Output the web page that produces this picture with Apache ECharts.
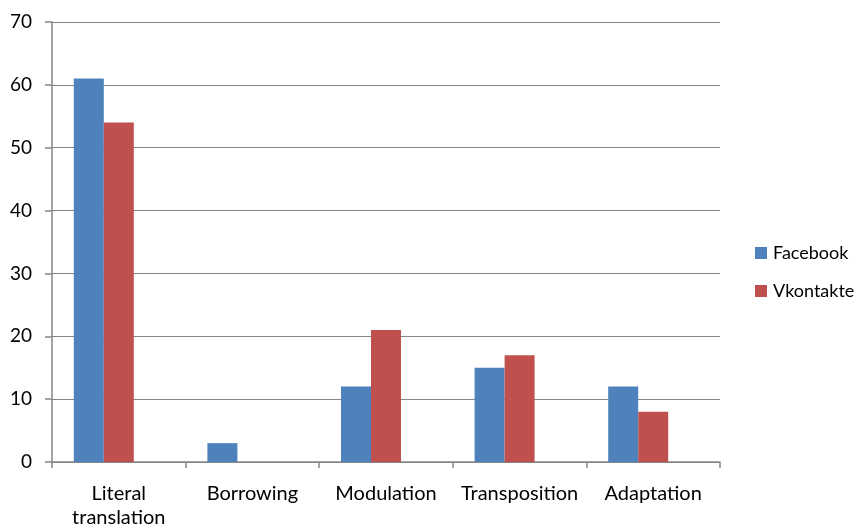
<!DOCTYPE html>
<html><head><meta charset="utf-8">
<script src="https://cdn.jsdelivr.net/npm/echarts@6/dist/echarts.min.js"></script>
<style>html,body{margin:0;padding:0;background:#fff}#c{width:857px;height:525px}</style>
</head><body><div id="c"></div>
<script>
const categories = ['Literal\ntranslation', 'Borrowing', 'Modulation', 'Transposition', 'Adaptation'];
const facebook = [61, 3, 12, 15, 12];
const vkontakte = [54, 0, 21, 17, 8];
const emptySeries = [null, null, null, null, null];
const yTicks = [0, 10, 20, 30, 40, 50, 60, 70];

const chart = echarts.init(document.getElementById('c'));
const font = 'Lato, "Open Sans", sans-serif';
const axisColor = '#868686';
chart.setOption({
  animation: false,
  textStyle: { fontFamily: font },
  grid: { left: 52, right: 137, top: 22, bottom: 63, containLabel: false, outerBoundsMode: 'none' },
  legend: {
    orient: 'vertical', left: 750, top: 239, itemGap: 20, itemWidth: 12, itemHeight: 12,
    icon: 'rect',
    textStyle: { fontSize: 18, color: '#000', fontFamily: font, padding: [0, 0, 0, 1] },
    data: ['Facebook', 'Vkontakte']
  },
  xAxis: {
    type: 'category', data: categories,
    axisLine: { lineStyle: { color: axisColor, width: 1.5 } },
    axisTick: { show: true, length: 6, lineStyle: { color: axisColor, width: 1.5 } },
    axisLabel: { fontSize: 20, color: '#000', margin: 20, lineHeight: 24, fontFamily: font, interval: 0 }
  },
  yAxis: {
    type: 'value', min: yTicks[0], max: yTicks[yTicks.length-1], interval: 10,
    axisLine: { show: true, lineStyle: { color: axisColor, width: 1.5 } },
    axisTick: { show: true, length: 7, lineStyle: { color: axisColor, width: 1.5 } },
    splitLine: { show: true, lineStyle: { color: axisColor, width: 1 } },
    axisLabel: { fontSize: 19, color: '#000', margin: 20, fontFamily: font }
  },
  series: [
    { name: 'Facebook', type: 'bar', data: facebook, barWidth: 30, barGap: '0%',
      itemStyle: { color: '#4F81BD' } },
    { name: 'Vkontakte', type: 'bar', data: vkontakte, barWidth: 30,
      itemStyle: { color: '#C0504D' } },
    { name: '_empty', type: 'bar', data: emptySeries, barWidth: 30,
      itemStyle: { color: 'transparent' } }
  ]
});
</script></body></html>
